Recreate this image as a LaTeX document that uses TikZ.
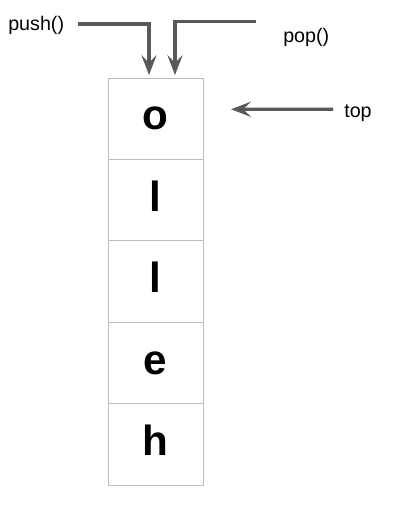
\documentclass[tikz,border=0pt]{standalone}
\usepackage{fontspec}
\setmainfont{Liberation Sans}
\usetikzlibrary{
  arrows.meta,
  positioning,  % Function "of" (e.g. [below=of x])
  calc,         % Calculations $...$
}
\definecolor{arrowgray}{HTML}{595959}
\definecolor{cellgray}{HTML}{BDBDBD}
\def\mycellw{2.375cm}
\def\mycellh{2.035cm}
\tikzset{
  my cell/.style={
    draw=cellgray,
    line width=0.7pt,
    minimum width=\mycellw,
    minimum height=\mycellh,
    outer sep=0pt,
    inner sep=0pt,
    text height=0.565cm,
    text depth=0cm,
    font=\fontsize{30}{36}\selectfont\bfseries
  },
  my label/.style={
    inner sep=0pt,
    font=\fontsize{14}{16}\selectfont
  },
  my arrow/.style={
    draw=arrowgray,
    line width=2.4pt,
    -{Stealth[length=0.5cm,width=0.38cm,inset=0.2cm]}
  }
}
\begin{document}
\begin{tikzpicture}
\useasboundingbox (0,0) rectangle (10,12.725);
% stack
\node[my cell] (o)  at (3.8875,9.7575) {o};
\node[my cell] (l1) [below=0pt of o]  {l};
\node[my cell] (l2) [below=0pt of l1] {l};
\node[my cell] (e)  [below=0pt of l2] {e};
\node[my cell] (h)  [below=0pt of e]  {h};
% labels
\node[my label,anchor=base west] (push) at (0.2,11.9625)  {push()};
\node[my label,anchor=base west] (pop)  at (7.075,11.6575) {pop()};
\node[my label,anchor=base west] (top)  at (8.6,9.775)     {top};
% free ends
\coordinate (push start) at (1.95,12.125);
\coordinate (pop start)  at (6.4,12.18);
\coordinate (top start)  at (8.325,9.9925);
\coordinate (push end) at ($(o.north)+(-0.1625,0.075)$);
\coordinate (pop end)  at ($(o.north)+(0.4875,0.075)$);
\coordinate (top end)  at ($(o.east)+(0.7,0.235)$);
\draw[my arrow] (push start) -| (push end);
\draw[my arrow] (pop start)  -| (pop end);
\draw[my arrow] (top start)  -- (top end);
\end{tikzpicture}
\end{document}
